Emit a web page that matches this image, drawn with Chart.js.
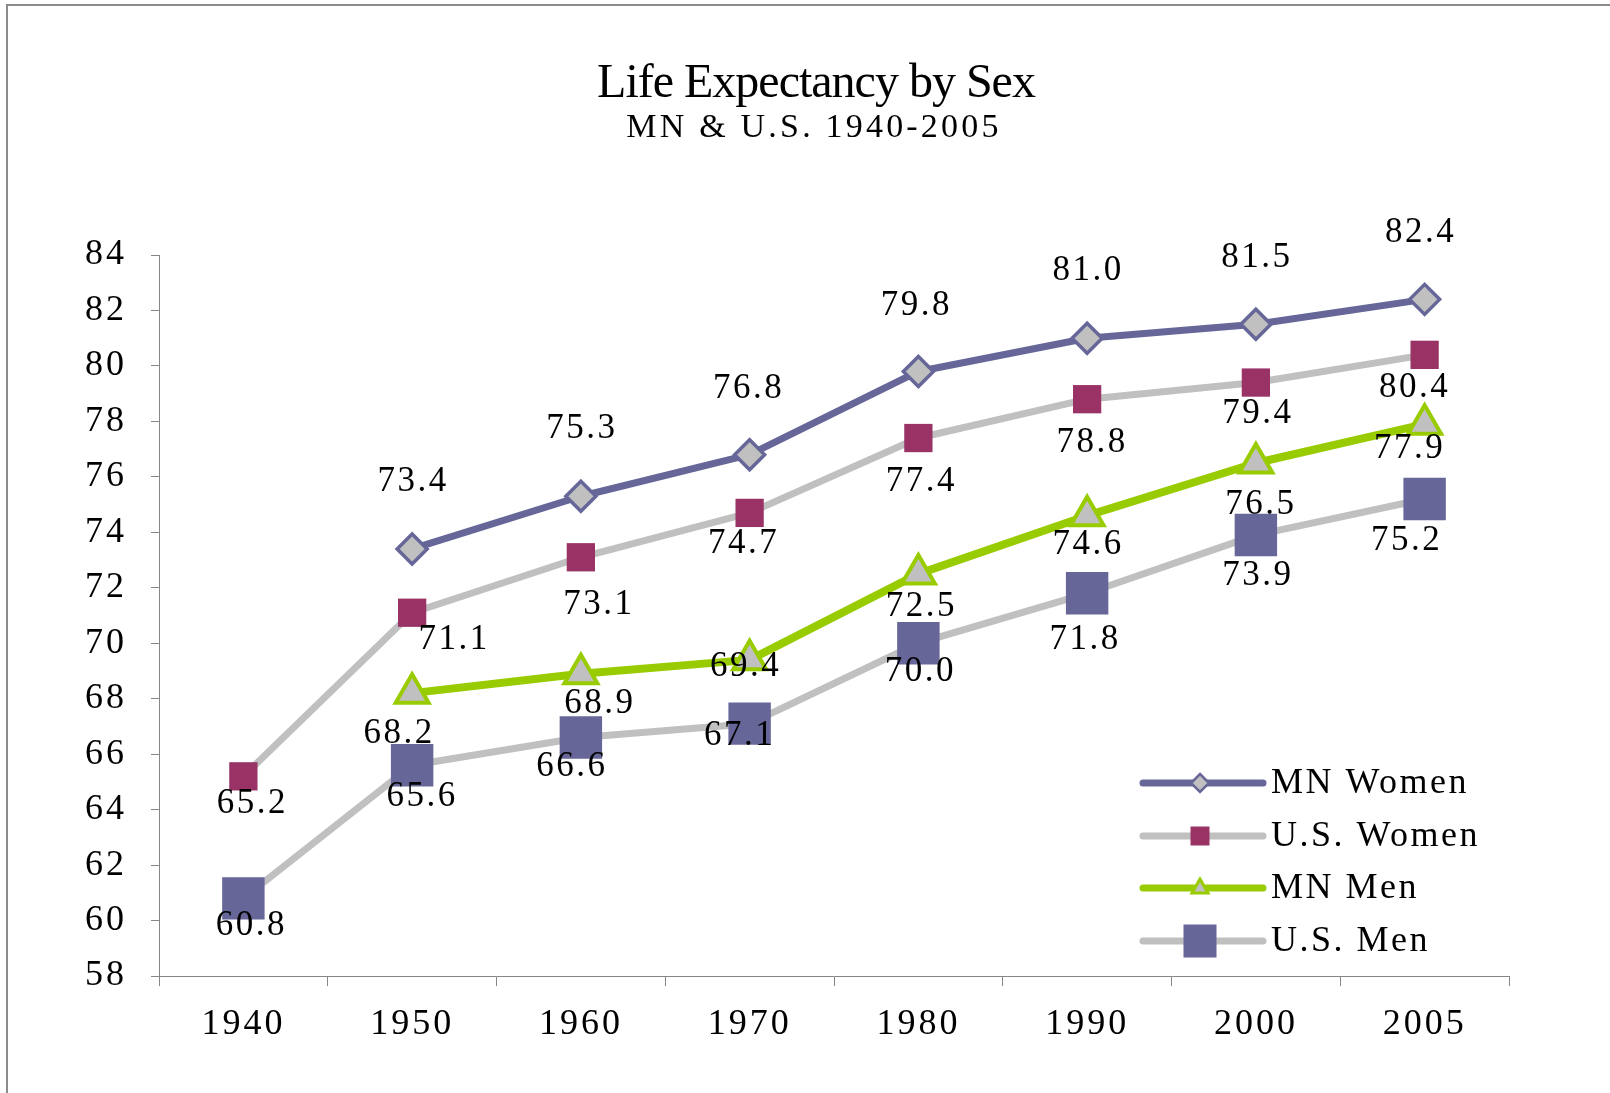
<!DOCTYPE html>
<html>
<head>
<meta charset="utf-8">
<title>Life Expectancy by Sex</title>
<script src="https://cdn.jsdelivr.net/npm/chart.js@4.4.1/dist/chart.umd.min.js"></script>
<style>
    html, body { margin: 0; padding: 0; background: #fff; }
    #wrap { position: relative; width: 1610px; height: 1093px; }
</style>
</head>
<body>
<div id="wrap"><canvas id="lifeChart"></canvas></div>
<script>
// Chart data
const years = ['1940', '1950', '1960', '1970', '1980', '1990', '2000', '2005'];
const mnWomen = [null, 73.4, 75.3, 76.8, 79.8, 81.0, 81.5, 82.4];
const usWomen = [65.2, 71.1, 73.1, 74.7, 77.4, 78.8, 79.4, 80.4];
const mnMen = [null, 68.2, 68.9, 69.4, 72.5, 74.6, 76.5, 77.9];
const usMen = [60.8, 65.6, 66.6, 67.1, 70.0, 71.8, 73.9, 75.2];
const seriesNames = ['MN Women', 'U.S. Women', 'MN Men', 'U.S. Men'];
const titleText = 'Life Expectancy by Sex';
const subtitleText = 'MN & U.S. 1940-2005';
const yMin = 58, yMax = 84, yStep = 2;

// Where each value label sits relative to its point (px), like the hand-placed Excel labels
const labelOffsets = [
    [null, [0, -67], [0, -67], [-2, -66], [-3, -66], [0, -67], [0, -67], [-5, -67]],
    [[8, 27], [41, 27], [17, 48], [-7, 31], [2, 44], [4, 44], [1, 31], [-11, 33]],
    [null, [-14, 41], [18, 30], [-5, 7], [2, 33], [0, 29], [4, 42], [-16, 25]],
    [[7, 27], [9, 32], [-10, 29], [-11, 12], [1, 29], [-3, 46], [1, 41], [-19, 42]]
];

const SERIF = '"Liberation Serif", "Times New Roman", serif';
const PURPLE = '#666699';
const GRAY = '#C0C0C0';
const PLUM = '#993366';
const GREEN = '#99CC00';
const AXIS = '#868686';

const seriesData = [mnWomen, usWomen, mnMen, usMen];

// Marker drawing for the legend
function drawMarker(ctx, kind, x, y) {
    ctx.save();
    if (kind === 0) {
        const r = 9;
        ctx.beginPath();
        ctx.moveTo(x, y - r); ctx.lineTo(x + r, y); ctx.lineTo(x, y + r); ctx.lineTo(x - r, y);
        ctx.closePath();
        ctx.fillStyle = GRAY; ctx.fill();
        ctx.lineWidth = 2.5; ctx.strokeStyle = PURPLE; ctx.stroke();
    } else if (kind === 1) {
        ctx.fillStyle = PLUM;
        ctx.fillRect(x - 9.5, y - 9.5, 19, 19);
    } else if (kind === 2) {
        ctx.beginPath();
        ctx.moveTo(x, y - 9); ctx.lineTo(x + 8, y + 5); ctx.lineTo(x - 8, y + 5);
        ctx.closePath();
        ctx.fillStyle = GRAY; ctx.fill();
        ctx.lineWidth = 3; ctx.strokeStyle = GREEN; ctx.stroke();
    } else {
        ctx.fillStyle = PURPLE;
        ctx.fillRect(x - 16.5, y - 16.5, 33, 33);
    }
    ctx.restore();
}

// Frame, titles and legend
const decorPlugin = {
    id: 'decor',
    beforeDraw(chart) {
        const ctx = chart.ctx;
        ctx.letterSpacing = '3px';
        ctx.save();
        ctx.strokeStyle = '#8c8c8c';
        ctx.lineWidth = 2;
        ctx.beginPath();
        ctx.moveTo(7, chart.height);
        ctx.lineTo(7, 5);
        ctx.lineTo(chart.width, 5);
        ctx.stroke();
        ctx.restore();
    },
    afterDraw(chart) {
        const ctx = chart.ctx;
        ctx.save();
        ctx.fillStyle = '#000';
        ctx.textAlign = 'center';
        ctx.textBaseline = 'middle';
        ctx.letterSpacing = '-1px';
        ctx.font = '48px ' + SERIF;
        ctx.fillText(titleText, 816, 84);
        ctx.letterSpacing = '3.2px';
        ctx.font = '34px ' + SERIF;
        ctx.fillText(subtitleText, 814, 128);

        // legend
        const rows = [783, 836, 888, 941];
        ctx.font = '36px ' + SERIF;
        ctx.letterSpacing = '2.5px';
        ctx.textAlign = 'left';
        const lineColors = [PURPLE, GRAY, GREEN, GRAY];
        rows.forEach((y, i) => {
            ctx.beginPath();
            ctx.lineCap = 'round';
            ctx.lineWidth = 7;
            ctx.strokeStyle = lineColors[i];
            ctx.moveTo(1143, y);
            ctx.lineTo(1263, y);
            ctx.stroke();
            drawMarker(ctx, i, 1200, y);
            ctx.fillStyle = '#000';
            ctx.fillText(seriesNames[i], 1271, y + 1);
        });
        ctx.restore();
    }
};

// Value labels, drawn right after their own series
const labelPlugin = {
    id: 'valueLabels',
    afterDatasetDraw(chart, args) {
        const i = args.index;
        const ctx = chart.ctx;
        ctx.save();
        ctx.font = '35px ' + SERIF;
        ctx.letterSpacing = '2.5px';
        ctx.fillStyle = '#000';
        ctx.textAlign = 'center';
        ctx.textBaseline = 'middle';
        args.meta.data.forEach((pt, j) => {
            const v = seriesData[i][j];
            if (v === null || v === undefined) return;
            const off = labelOffsets[i][j];
            ctx.fillText(v.toFixed(1), pt.x + off[0] + 1, pt.y + off[1]);
        });
        ctx.restore();
    }
};

const ctx = document.getElementById('lifeChart');

new Chart(ctx, {
    type: 'line',
    data: {
        labels: years,
        datasets: [{
            label: seriesNames[0],
            data: mnWomen,
            order: 3,
            borderColor: PURPLE,
            borderWidth: 7,
            pointStyle: 'rectRot',
            pointRadius: 15,
            pointBackgroundColor: GRAY,
            pointBorderColor: PURPLE,
            pointBorderWidth: 3.5
        }, {
            label: seriesNames[1],
            data: usWomen,
            order: 2,
            borderColor: GRAY,
            borderWidth: 7,
            pointStyle: 'rect',
            pointRadius: 20,
            pointBackgroundColor: PLUM,
            pointBorderColor: PLUM,
            pointBorderWidth: 0
        }, {
            label: seriesNames[2],
            data: mnMen,
            order: 1,
            borderColor: GREEN,
            borderWidth: 8,
            pointStyle: 'triangle',
            pointRadius: 19,
            pointBackgroundColor: GRAY,
            pointBorderColor: GREEN,
            pointBorderWidth: 4
        }, {
            label: seriesNames[3],
            data: usMen,
            order: 0,
            borderColor: GRAY,
            borderWidth: 7,
            pointStyle: 'rect',
            pointRadius: 30,
            pointBackgroundColor: PURPLE,
            pointBorderColor: PURPLE,
            pointBorderWidth: 0
        }]
    },
    options: {
        responsive: true,
        maintainAspectRatio: false,
        animation: false,
        elements: {
            line: { tension: 0, borderJoinStyle: 'round', borderCapStyle: 'round' }
        },
        layout: {
            padding: { top: 255, right: 101, bottom: 0, left: 0 }
        },
        plugins: {
            legend: { display: false },
            tooltip: { enabled: false },
            title: { display: false }
        },
        scales: {
            x: {
                offset: true,
                border: { color: AXIS, width: 1 },
                grid: {
                    offset: true,
                    drawOnChartArea: false,
                    color: AXIS,
                    tickLength: 10
                },
                ticks: {
                    color: '#000',
                    padding: 17,
                    maxRotation: 0,
                    font: { family: SERIF, size: 36, lineHeight: 1.2 }
                },
                afterFit(scale) { scale.height = 117; }
            },
            y: {
                min: yMin,
                max: yMax,
                border: { color: AXIS, width: 1 },
                grid: {
                    drawOnChartArea: false,
                    color: AXIS,
                    tickLength: 8
                },
                ticks: {
                    stepSize: yStep,
                    color: '#000',
                    padding: 24,
                    font: { family: SERIF, size: 36 }
                },
                afterFit(scale) { scale.width = 159; }
            }
        }
    },
    plugins: [decorPlugin, labelPlugin]
});
</script>
</body>
</html>
